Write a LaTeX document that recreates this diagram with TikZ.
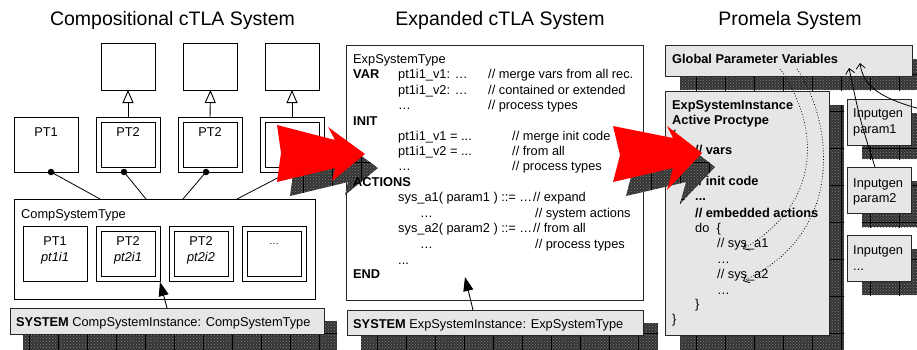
\documentclass[tikz,border=0pt]{standalone}
\usepackage{fontspec}
\setmainfont{Liberation Sans}
\usetikzlibrary{arrows.meta,patterns}

\definecolor{stonegray}{RGB}{52,52,52}
\definecolor{boxgray}{RGB}{230,230,230}
\definecolor{edgegray}{RGB}{40,40,40}
\definecolor{bigred}{RGB}{255,0,0}

\newcommand{\fs}{\fontsize{12.8}{15}\selectfont}
\newcommand{\ts}{\fontsize{19.5}{23}\selectfont}

% textured drop shadow (dark stone with brick joints)
\newcommand{\stonefill}[1]{%
  \fill[stonegray] #1;
  \begin{scope}
    \clip #1;
    \fill[pattern=crosshatch dots, pattern color=black!50] (0,0) rectangle (960,380);
    \draw[black, line width=0.7pt, xstep=29pt, ystep=37pt] (0,380) grid (960,0);
  \end{scope}}

% second, inner frame of an extended process type box
\newcommand{\innerframe}[1]{%
  \draw[line width=0.9pt] ([shift={(5,5)}]#1.north west) rectangle ([shift={(-5,-5)}]#1.south east);}

\tikzset{
  box/.style={draw=black, fill=white, line width=0.9pt, inner sep=0pt, outer sep=0pt},
  sbox/.style={box, minimum width=64, minimum height=55},
  gbox/.style={draw=edgegray, fill=boxgray, line width=0.9pt, inner sep=0pt, outer sep=0pt},
  txt/.style={inner sep=0pt, anchor=base west, font=\fs},
  btxt/.style={txt, font=\fs\bfseries},
  ctxt/.style={inner sep=0pt, anchor=base, font=\fs},
  title/.style={inner sep=0pt, anchor=base, font=\ts},
  dot/.style={circle, fill=black, inner sep=0pt, minimum size=6.5},
  inh/.style={line width=0.9pt, -{Triangle[open, length=13pt, width=11pt, fill=white]}},
  ptr/.style={line width=0.9pt, -{Triangle[length=14pt, width=10pt]}},
  thin/.style={line width=0.8pt},
  vee/.style={line width=0.8pt, -{Straight Barb[length=5pt, width=9pt]}},
}

\begin{document}
\begin{tikzpicture}[x=1pt, y=-1pt]
\useasboundingbox (0,0) rectangle (917,349);
\clip (0,0) rectangle (917,349);
\fill[white] (0,0) rectangle (917,349);

% ---------- titles ----------
\node[title] (t1) at (172.5,25) {Compositional cTLA System};
\node[title] (t2) at (500,25) {Expanded cTLA System};
\node[title] (t3) at (790,25) {Promela System};

% ---------- compositional system ----------
\node[box, minimum width=54, minimum height=47] (tb1) at (128,66.5) {};
\node[box, minimum width=54, minimum height=47] (tb2) at (210.5,66.5) {};
\node[box, minimum width=54, minimum height=47] (tb3) at (292,66.5) {};

\node[sbox] (pt1) at (46,144.5) {};
\node[sbox] (pt2a) at (128,144.5) {};
\node[sbox] (pt2b) at (210,144.5) {};
\node[sbox] (pt4) at (292,144.5) {};
\innerframe{pt2a}
\innerframe{pt2b}
\innerframe{pt4}
\node[ctxt] (pt1l) at (46,136) {PT1};
\node[ctxt] (pt2al) at (128,136) {PT2};
\node[ctxt] (pt2bl) at (210,136) {PT2};

\draw[inh] (pt2a.north) -- (tb1.south);
\draw[inh] (pt2b.north) -- (tb2.south);
\draw[inh] (pt4.north) -- (tb3.south);

\node[box, minimum width=301, minimum height=100] (comp) at (164.5,249) {};
\node[txt] (compl) at (21,218) {CompSystemType};
\node[sbox] (cpt1) at (55,253.5) {};
\node[sbox] (cpt2) at (128,253.5) {};
\node[sbox] (cpt3) at (201,253.5) {};
\node[sbox] (cpt4) at (274,253.5) {};
\innerframe{cpt2}
\innerframe{cpt3}
\innerframe{cpt4}
\node[ctxt] (cpt1a) at (55,245) {PT1};
\node[ctxt] (cpt1b) at (55,261) {\itshape pt1i1};
\node[ctxt] (cpt2a) at (128,245) {PT2};
\node[ctxt] (cpt2b) at (128,261) {\itshape pt2i1};
\node[ctxt] (cpt3a) at (201,245) {PT2};
\node[ctxt] (cpt3b) at (201,261) {\itshape pt2i2};
\node[ctxt] (cpt4a) at (274,244) {\fontsize{10}{12}\selectfont …};

% composition links
\coordinate (k1) at (100,199);
\coordinate (k2) at (146,199);
\coordinate (k3) at (183,199);
\coordinate (k4) at (237,199);
\node[dot] (d1) at (51,172) {};
\node[dot] (d2) at (124,172) {};
\node[dot] (d3) at (206,172) {};
\node[dot] (d4) at (289,172) {};
\draw[thin] (d1.center) -- (k1);
\draw[thin] (d2.center) -- (k2);
\draw[thin] (d3.center) -- (k3);
\draw[thin] (d4.center) -- (k4);

\stonefill{(23,321) rectangle (337,352)}
\node[gbox, minimum width=314, minimum height=26] (sysl) at (167,321) {};
\node[txt] (sysltxt) at (16,326) {\textbf{SYSTEM} CompSystemInstance: CompSystemType};
\coordinate (sysltip) at (160,282);
\draw[ptr] (sysl.north) -- (sysltip);

% ---------- expanded system ----------
\node[box, draw=edgegray, minimum width=297, minimum height=255] (mbox) at (494.5,172.5) {};

\stonefill{(361,323) rectangle (658,352)}
\node[gbox, minimum width=296, minimum height=25] (sysm) at (495,322.5) {};
\node[txt] (sysmtxt) at (353,328) {\textbf{SYSTEM} ExpSystemInstance: ExpSystemType};
\coordinate (sysmfrom) at (473,310);
\coordinate (sysmtip) at (465,277);
\draw[ptr] (sysmfrom) -- (sysmtip);

% ---------- promela system ----------
\stonefill{(680,59) rectangle (930,90)}
\node[gbox, minimum width=247, minimum height=31] (glob) at (788.5,60.5) {};
\node[btxt] (globtxt) at (672,63) {Global Parameter Variables};

\stonefill{(680,105) rectangle (844,352)}
\node[gbox, minimum width=164, minimum height=244] (inst) at (747,213) {};

\stonefill{(862,113) rectangle (930,159)}
\node[gbox, minimum width=64, minimum height=46] (ig1) at (879,122) {};
\stonefill{(862,181) rectangle (930,227)}
\node[gbox, minimum width=64, minimum height=46] (ig2) at (879,190) {};
\stonefill{(862,249) rectangle (930,295)}
\node[gbox, minimum width=64, minimum height=46] (ig3) at (879,258) {};
\node[txt] (ig1a) at (853,117) {Inputgen};
\node[txt] (ig1b) at (853,133) {param1};
\node[txt] (ig2a) at (853,187) {Inputgen};
\node[txt] (ig2b) at (853,202) {param2};
\node[txt] (ig3a) at (853,254) {Inputgen};
\node[txt] (ig3b) at (853,270) {...};

\node[btxt] (p0) at (672,109) {ExpSystemInstance};
\node[btxt] (p1) at (672,124) {Active Proctype};
\node[txt] (p2) at (672,139) {\{};
\node[btxt] (p3) at (695,154) {// vars};
\node[btxt] (p4) at (695,185) {// init code};
\node[btxt] (p5) at (695,200) {...};
\node[btxt] (p6) at (695,217) {// embedded actions};
\node[txt] (p7) at (695,232) {do\ \ \{};
\node[txt] (p8) at (717,247) {// sys\_a1};
\node[txt] (p9) at (717,263) {…};
\node[txt] (p10) at (717,278) {// sys\_a2};
\node[txt] (p11) at (717,294) {…};
\node[txt] (p12) at (695,308) {\}};
\node[txt] (p13) at (672,323) {\}};

% ---------- transformation arrows ----------
\begin{scope}[shift={(13,14)}]
  \stonefill{(277,125) -- (335,140) -- (328,127) -- (365,154) -- (332,181) -- (335,168) -- (277,182) -- (281,153) -- cycle}
  \stonefill{(613,126) -- (673,138) -- (667,126) -- (702,153) -- (667,190) -- (673,168) -- (613,182) -- (620,155) -- cycle}
\end{scope}
\fill[bigred] (277,125) -- (335,140) -- (328,127) -- (365,154) -- (332,181) -- (335,168) -- (277,182) -- (281,153) -- cycle;
\fill[bigred] (613,126) -- (673,138) -- (667,126) -- (702,153) -- (667,190) -- (673,168) -- (613,182) -- (620,155) -- cycle;

% ---------- expanded type text ----------
\node[txt] (e0) at (353,63) {ExpSystemType};
\node[btxt] (e1) at (353,78) {VAR};
\node[txt] (e2) at (398,78) {pt1i1\_v1: …};
\node[txt] (e3) at (488,78) {// merge vars from all rec.};
\node[txt] (e4) at (398,94) {pt1i1\_v2: …};
\node[txt] (e5) at (488,94) {// contained or extended};
\node[txt] (e6) at (398,109) {…};
\node[txt] (e7) at (488,109) {// process types};
\node[btxt] (e8) at (353,125) {INIT};
\node[txt] (e9) at (398,140) {pt1i1\_v1 = ...};
\node[txt] (e10) at (512,140) {// merge init code};
\node[txt] (e11) at (398,155) {pt1i1\_v2 = ...};
\node[txt] (e12) at (512,155) {// from all};
\node[txt] (e13) at (398,170) {…};
\node[txt] (e14) at (512,170) {// process types};
\node[btxt] (e15) at (353,186) {ACTIONS};
\node[txt] (e16) at (398,201) {sys\_a1( param1 ) ::= …};
\node[txt] (e17) at (533,201) {// expand};
\node[txt] (e18) at (420,217) {…};
\node[txt] (e19) at (535,217) {// system actions};
\node[txt] (e20) at (398,232) {sys\_a2( param2 ) ::= …};
\node[txt] (e21) at (533,232) {// from all};
\node[txt] (e22) at (420,248) {…};
\node[txt] (e23) at (535,248) {// process types};
\node[txt] (e24) at (398,264) {...};
\node[btxt] (e25) at (353,278) {END};

% ---------- parameter links ----------
\coordinate (g1) at (780,69);
\coordinate (g2) at (797,69);
\coordinate (a1) at (743,249);
\coordinate (a2) at (743,281);
\draw[vee, dotted] (g1) .. controls (810,110) and (835,195) .. (a1);
\draw[vee, dotted] (g2) .. controls (832,120) and (848,232) .. (a2);

\coordinate (ig2top) at (875,167);
\coordinate (gin1) at (849,68);
\coordinate (edge) at (920,109);
\coordinate (gin2) at (860,63);
\draw[vee] (ig2top) .. controls (860,120) .. (gin1);
\draw[vee] (edge) .. controls (880,98) and (863,86) .. (gin2);
\end{tikzpicture}
\end{document}
